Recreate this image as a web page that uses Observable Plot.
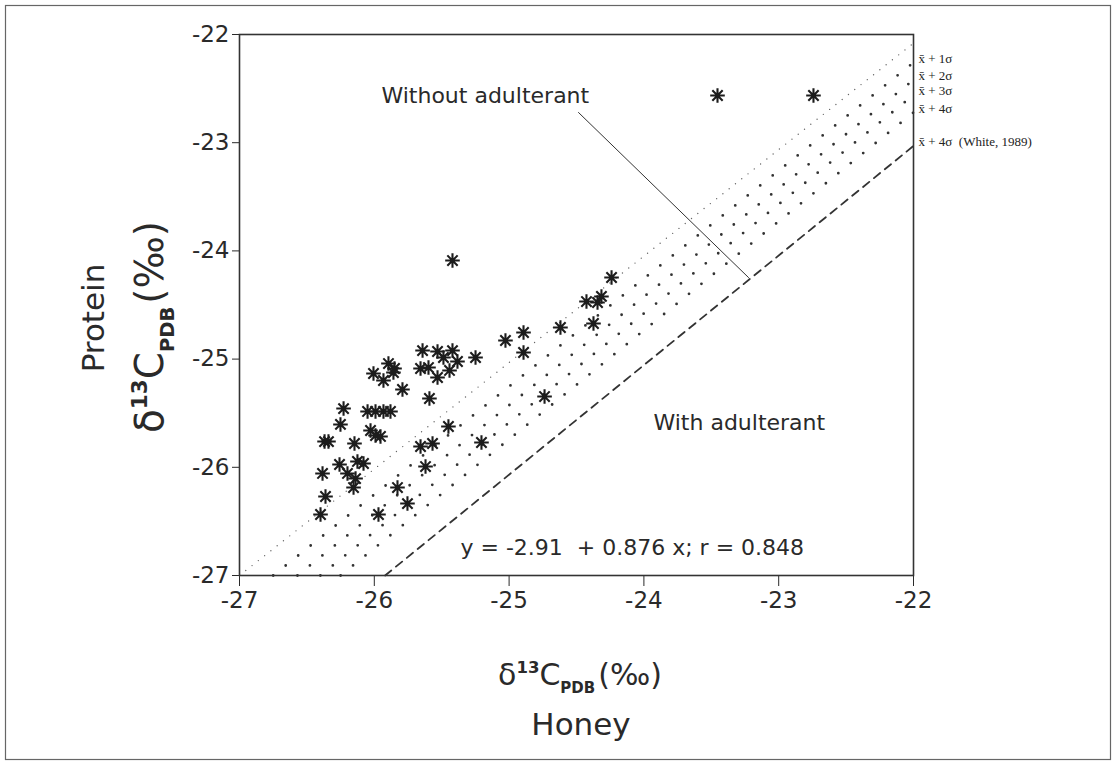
<!DOCTYPE html>
<html>
<head>
<meta charset="utf-8">
<script src="https://cdn.jsdelivr.net/npm/d3@7"></script>
<script src="https://cdn.jsdelivr.net/npm/@observablehq/plot@0.6"></script>
<style>
  html, body { margin: 0; padding: 0; background: #fff; }
  #wrap { position: relative; width: 1117px; height: 765px; }
</style>
</head>
<body>
<div id="wrap"></div>
<script>
// ---- Data ----
const honey = [
  -23.454, -22.742, -25.420, -24.240, -24.426, -24.344, -24.315, -24.374, -24.619, -24.893,
  -25.027, -24.893, -25.249, -25.642, -25.531, -25.420, -25.487, -25.383, -25.442, -25.531,
  -25.657, -25.598, -25.895, -25.850, -25.858, -26.006, -25.932, -25.791, -25.591, -24.737,
  -26.228, -26.050, -25.991, -25.932, -25.880, -26.251, -25.450, -26.028, -25.991, -25.954,
  -26.369, -26.340, -26.147, -25.657, -25.568, -25.205, -26.258, -26.125, -26.080, -26.199,
  -26.139, -26.154, -25.620, -26.384, -25.828, -26.362, -25.754, -26.399, -25.969
];
const protein = [
  -22.564, -22.564, -24.089, -24.246, -24.468, -24.477, -24.421, -24.671, -24.708, -24.754,
  -24.828, -24.939, -24.985, -24.921, -24.930, -24.921, -24.985, -25.022, -25.105, -25.170,
  -25.087, -25.078, -25.041, -25.087, -25.124, -25.133, -25.198, -25.281, -25.364, -25.346,
  -25.457, -25.484, -25.484, -25.484, -25.484, -25.604, -25.623, -25.660, -25.706, -25.715,
  -25.762, -25.762, -25.780, -25.808, -25.780, -25.771, -25.974, -25.946, -25.965, -26.057,
  -26.104, -26.187, -25.993, -26.057, -26.187, -26.270, -26.335, -26.436, -26.436
];

const xTicks = [-27, -26, -25, -24, -23, -22];
const yTicks = [-27, -26, -25, -24, -23, -22];

// upper reference line (fine dots)
const upperLineX = [-27, -22];
const upperLineY = [-27, -22.08];

// sigma limit lines: start at the bottom (y = -27), end at the right (x = -22)
const sigmaLabels = ["x\u0304 + 1\u03c3", "x\u0304 + 2\u03c3", "x\u0304 + 3\u03c3", "x\u0304 + 4\u03c3", "x\u0304 + 4\u03c3  (White, 1989)"];
const sigmaStartX = [-26.75, -26.57, -26.40, -26.25, -25.92];
const sigmaEndY   = [-22.26, -22.42, -22.56, -22.72, -23.03];

// annotations
const annoText = ["Without adulterant", "With adulterant", "y = -2.91  + 0.876 x; r = 0.848"];
const annoX = [-25.947, -23.929, -25.361];
const annoY = [-22.564, -25.586, -26.750];
const leaderX = [-24.485, -23.224];
const leaderY = [-22.721, -24.246];

// ---- Build tables ----
const points = honey.map((h, i) => ({x: h, y: protein[i]}));
const upperLine = upperLineX.map((x, i) => ({x, y: upperLineY[i]}));
const sigmaLines = [];
sigmaLabels.forEach((lab, i) => {
  sigmaLines.push({id: i, x: sigmaStartX[i], y: -27});
  sigmaLines.push({id: i, x: -22, y: sigmaEndY[i]});
});
const boldLines = sigmaLines.filter(d => d.id < 4);
const whiteLine = sigmaLines.filter(d => d.id === 4);
const sigmaEnds = sigmaLabels.map((lab, i) => ({label: lab, x: -22, y: sigmaEndY[i]}));
const annos = annoText.map((t, i) => ({t, x: annoX[i], y: annoY[i]}));
const leader = leaderX.map((x, i) => ({x, y: leaderY[i]}));

// 8-spoke asterisk symbol
const asterisk8 = {
  draw(context, size) {
    const r = Math.sqrt(size / Math.PI);
    const d = r * Math.SQRT1_2;
    context.moveTo(-r, 0); context.lineTo(r, 0);
    context.moveTo(0, -r); context.lineTo(0, r);
    context.moveTo(-d, -d); context.lineTo(d, d);
    context.moveTo(-d, d); context.lineTo(d, -d);
  }
};

const FONT = "'DejaVu Sans', sans-serif";

const chart = Plot.plot({
  width: 1117,
  height: 765,
  marginTop: 34,
  marginRight: 204,
  marginBottom: 190,
  marginLeft: 239,
  style: {fontFamily: FONT, fontSize: "23px", color: "#2a2a2a", background: "#fff", overflow: "visible"},
  x: {domain: [-27, -22], ticks: xTicks, tickSize: 11, tickPadding: 5, tickFormat: d => String(d), label: null},
  y: {domain: [-27, -22], ticks: yTicks, tickSize: 7, tickPadding: 3, tickFormat: d => String(d), label: null},
  marks: [
    Plot.line(upperLine, {x: "x", y: "y", stroke: "#666", strokeWidth: 1.4, strokeDasharray: "0,8", strokeLinecap: "round"}),
    Plot.line(boldLines, {x: "x", y: "y", z: "id", stroke: "#333", strokeWidth: 2.8, strokeDasharray: "0,16", strokeLinecap: "round"}),
    Plot.line(whiteLine, {x: "x", y: "y", stroke: "#333", strokeWidth: 1.8, strokeDasharray: "8,6"}),
    Plot.line(leader, {x: "x", y: "y", stroke: "#333", strokeWidth: 1}),
    Plot.dot(points, {x: "x", y: "y", symbol: asterisk8, r: 7.3, stroke: "#1c1c1c", strokeWidth: 2.1, fill: "none"}),
    Plot.text(annos, {x: "x", y: "y", text: "t", textAnchor: "start", fontSize: 22, fill: "#2a2a2a", fontFamily: FONT}),
    Plot.text(sigmaEnds, {x: "x", y: "y", text: "label", textAnchor: "start", dx: 5, dy: -4, fontSize: 13, fill: "#222", fontFamily: "'Liberation Serif', serif"}),
    Plot.frame({stroke: "#333", strokeWidth: 1.6})
  ]
});

document.getElementById("wrap").appendChild(chart);

// ---- axis titles with super/subscripts, and outer border ----
const svg = d3.select(chart);

svg.append("rect")
  .attr("x", 5.5).attr("y", 5.5).attr("width", 1105).attr("height", 754)
  .attr("fill", "none").attr("stroke", "#666").attr("stroke-width", 1.2);

function deltaLabel(g, size) {
  const t = g.append("text")
    .attr("text-anchor", "middle")
    .attr("fill", "#2a2a2a")
    .style("font-family", FONT)
    .style("font-size", size + "px");
  t.append("tspan").text("\u03b4");
  t.append("tspan").attr("dy", -size * 0.4).style("font-size", (size * 0.55) + "px").style("font-weight", "bold").text("13");
  t.append("tspan").attr("dy", size * 0.4).text("C");
  t.append("tspan").attr("dy", size * 0.27).style("font-size", (size * 0.5) + "px").style("font-weight", "bold").text("PDB");
  t.append("tspan").attr("dy", -size * 0.27).attr("dx", 3).text("(\u2030)");
  return t;
}

// x-axis title
deltaLabel(svg.append("g").attr("transform", "translate(580,685)"), 30);
svg.append("text")
  .attr("x", 581).attr("y", 735)
  .attr("text-anchor", "middle")
  .attr("fill", "#2a2a2a")
  .style("font-family", FONT).style("font-size", "31px")
  .text("Honey");

// y-axis title
svg.append("text")
  .attr("transform", "translate(104,318) rotate(-90)")
  .attr("text-anchor", "middle")
  .attr("fill", "#2a2a2a")
  .style("font-family", FONT).style("font-size", "31px")
  .text("Protein");
deltaLabel(svg.append("g").attr("transform", "translate(163,327) rotate(-90)"), 39);
</script>
</body>
</html>
